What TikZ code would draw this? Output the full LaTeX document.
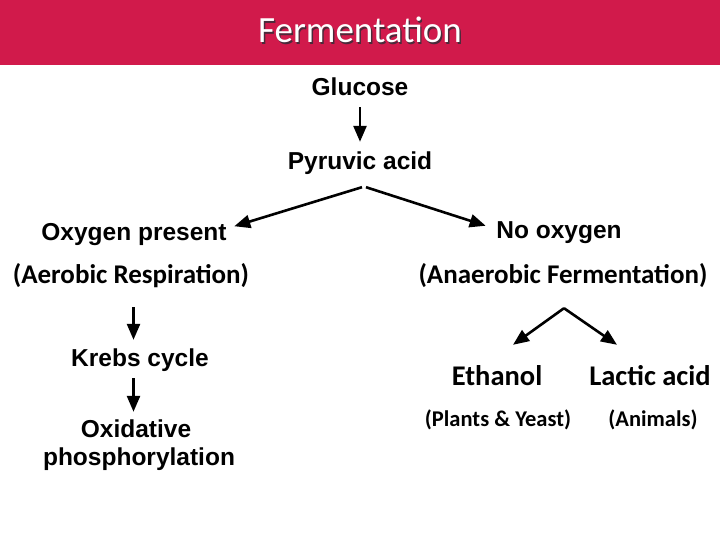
\documentclass[tikz,border=0pt]{standalone}
\usepackage{fontspec}
\usepackage{tikz}
\usetikzlibrary{arrows.meta}
\newfontfamily\arialfont{Liberation Sans}
\newfontfamily\calfont{Carlito}
\definecolor{titlered}{HTML}{D11A4B}
\definecolor{titleshade}{HTML}{4A2A3A}
\definecolor{ink}{HTML}{000000}
\tikzset{
  titletext/.style={font=\calfont\fontsize{37}{41}\selectfont, inner sep=0pt, anchor=base},
  stage/.style={font=\arialfont\bfseries\fontsize{24.5}{28}\selectfont, text=ink, inner sep=0pt, text height=17.5pt, text depth=5pt, anchor=base},
  note/.style={font=\calfont\bfseries\fontsize{27}{31}\selectfont, text=ink, inner sep=0pt, text height=20pt, text depth=6pt, anchor=base},
  prod/.style={font=\calfont\bfseries\fontsize{28.5}{32}\selectfont, text=ink, inner sep=0pt, text height=20pt, text depth=6pt, anchor=base},
  who/.style={font=\calfont\bfseries\fontsize{22.5}{26}\selectfont, text=ink, inner sep=0pt, text height=16pt, text depth=5pt, anchor=base},
  arr/.style={draw=ink, line width=2.6pt, -{Triangle[length=16pt,width=13pt]}},
}
\begin{document}
\begin{tikzpicture}[x=1pt,y=-1pt]
  \useasboundingbox[fill=white] (0,0) rectangle (720,540);

  % title bar
  \fill[titlered] (0,0) rectangle (720,65);
  \node[titletext, text=titleshade] (shade) at (361.4,44.4) {Fermentation};
  \node[titletext, text=white] (title) at (360,43) {Fermentation};

  % main chain
  \node[stage] (glu) at (360,96) {Glucose};
  \node[stage] (pyr) at (360,170) {Pyruvic acid};
  \draw[arr, shorten <=6pt, shorten >=10.5pt] (glu.south) -- (pyr.north);

  % aerobic branch
  \node[stage] (oxy) at (134,240.5) {Oxygen present};
  \node[note] (aer) at (131,283) {(Aerobic Respiration)};
  \node[stage] (krebs) at (140,366.5) {Krebs cycle};
  \node[stage] (oxi) at (136,437) {Oxidative};
  \node[stage] (phos) at (139,465) {phosphorylation};
  \coordinate (lcol) at (133.5,0);
  \draw[arr, shorten <=18pt, shorten >=9pt] (aer.south -| lcol) -- (krebs.north -| lcol);
  \draw[arr, shorten <=6.5pt, shorten >=7.5pt] (krebs.south -| lcol) -- (oxi.north -| lcol);

  % anaerobic branch
  \node[stage] (noo) at (559,238) {No oxygen};
  \node[note] (anae) at (563,283) {(Anaerobic Fermentation)};
  \node[prod] (eth) at (497,385) {Ethanol};
  \node[prod] (lac) at (650,385) {Lactic acid};
  \node[who] (plants) at (498,426) {(Plants \& Yeast)};
  \node[who] (anim) at (653,426) {(Animals)};

  % forks
  \draw[arr] ([shift={(2,12)}]pyr.south) -- ([shift={(7.5,-8)}]oxy.east);
  \draw[arr] ([shift={(6,12)}]pyr.south) -- ([shift={(-10.5,-6)}]noo.west);
  \coordinate (split) at ([shift={(1,19)}]anae.south);
  \draw[arr] (split) -- ([shift={(16,-20)}]eth.north);
  \draw[arr] (split) -- ([shift={(-33,-20)}]lac.north);
\end{tikzpicture}
\end{document}
